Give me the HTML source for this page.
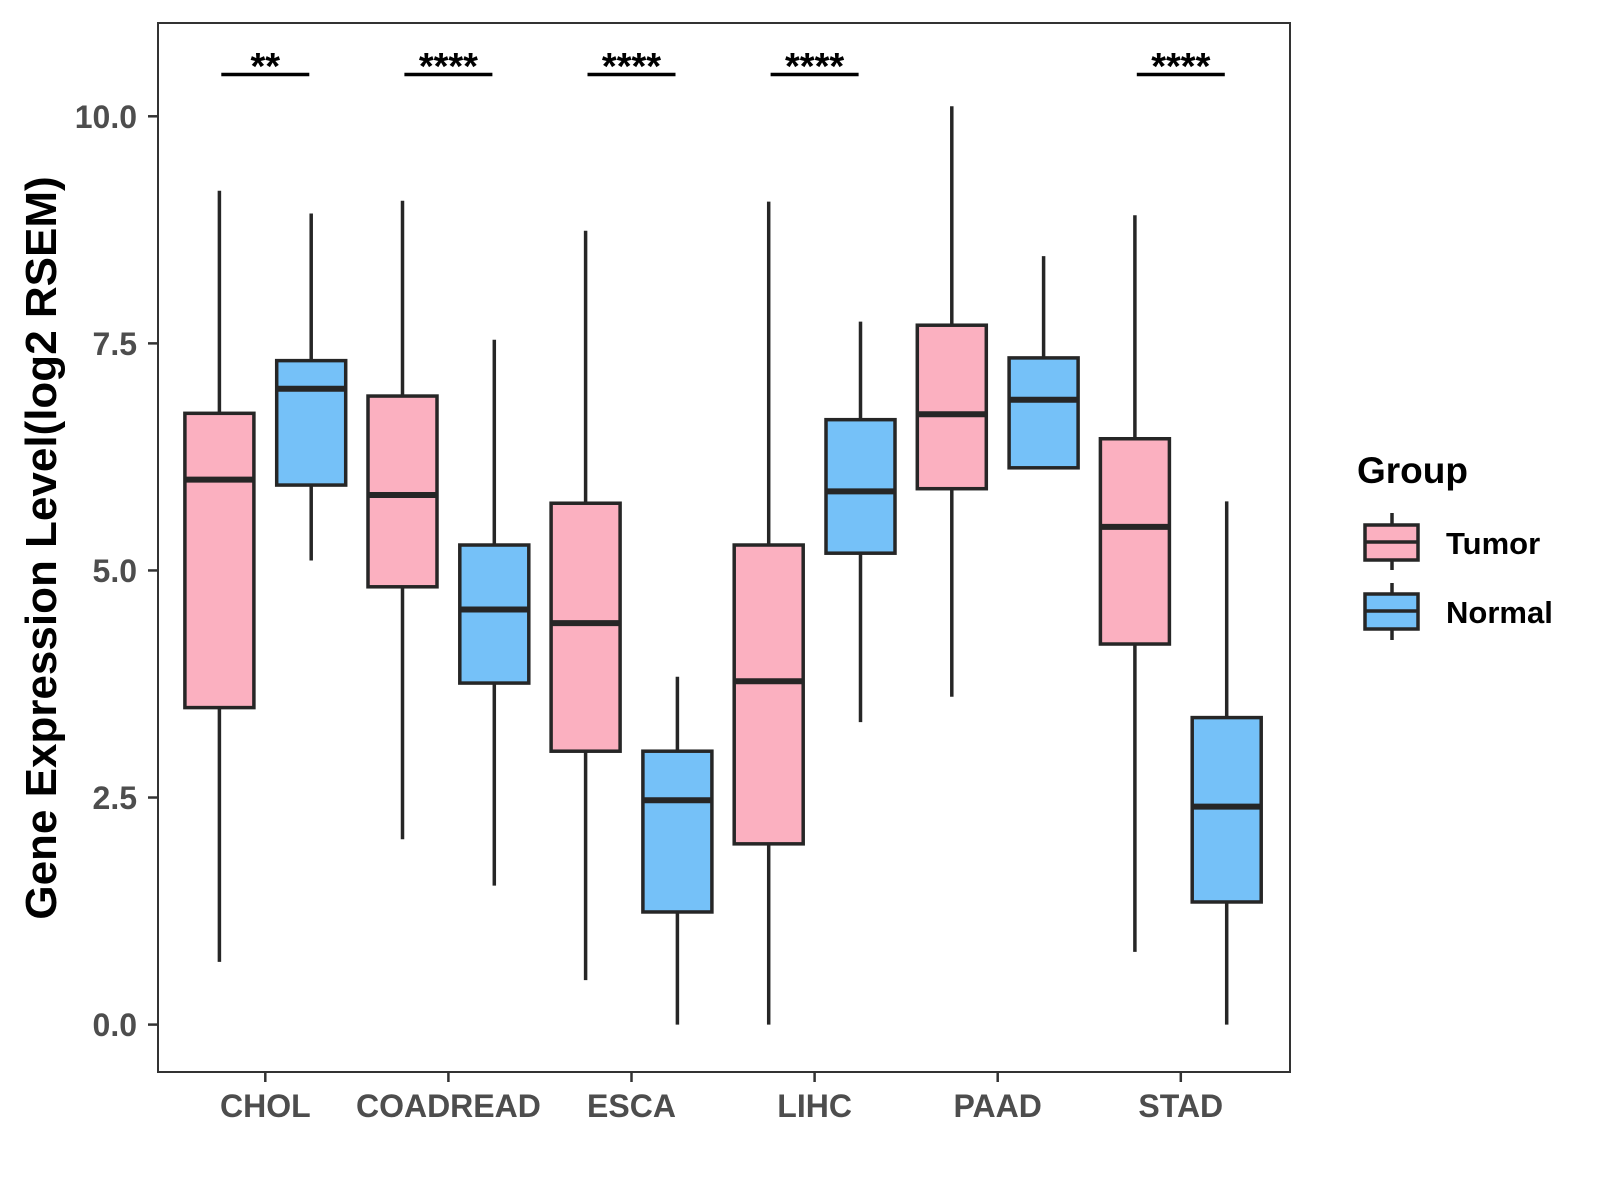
<!DOCTYPE html>
<html><head><meta charset="utf-8"><style>
html,body{margin:0;padding:0;background:#fff;}
svg{display:block;font-family:"Liberation Sans",Arial,sans-serif;}
</style></head><body>
<svg id="chart" width="1600" height="1200" viewBox="0 0 1600 1200">
<rect x="158" y="23" width="1132" height="1049" fill="#fff" stroke="#333" stroke-width="2"/>
<g id="marks"></g>
<g id="axes"></g>
<text x="0" y="0" transform="translate(56,548) rotate(-90)" text-anchor="middle" font-weight="bold" font-size="44" fill="#000">Gene Expression Level(log2 RSEM)</text>
<g>
<text x="1357" y="483" font-size="37" font-weight="bold" fill="#000">Group</text>
<g>
<line x1="1392" y1="513" x2="1392" y2="570" stroke="#262626" stroke-width="3.5"/>
<rect x="1365" y="525" width="53" height="35" fill="#FBB0C0" stroke="#262626" stroke-width="3.5"/>
<line x1="1365" y1="542" x2="1418" y2="542" stroke="#262626" stroke-width="3.5"/>
<text x="1446" y="554" font-size="31" font-weight="bold" fill="#000">Tumor</text>
</g>
<g>
<line x1="1392" y1="583" x2="1392" y2="640" stroke="#262626" stroke-width="3.5"/>
<rect x="1365" y="594" width="53" height="35" fill="#75C1F8" stroke="#262626" stroke-width="3.5"/>
<line x1="1365" y1="611" x2="1418" y2="611" stroke="#262626" stroke-width="3.5"/>
<text x="1446" y="623" font-size="31" font-weight="bold" fill="#000">Normal</text>
</g>
</g>
</svg>
<script>
const categories = ["CHOL","COADREAD","ESCA","LIHC","PAAD","STAD"];
// [lowWhisker, q1, median, q3, highWhisker]
const tumorStats = [
 [0.69,3.49,6.00,6.73,9.18],
 [2.04,4.82,5.83,6.92,9.07],
 [0.49,3.01,4.42,5.74,8.74],
 [0.00,1.99,3.78,5.28,9.06],
 [3.61,5.90,6.72,7.70,10.11],
 [0.80,4.19,5.48,6.45,8.91]
];
const normalStats = [
 [5.11,5.94,7.00,7.31,8.93],
 [1.53,3.76,4.57,5.28,7.54],
 [0.00,1.24,2.47,3.01,3.83],
 [3.33,5.19,5.87,6.66,7.74],
 [6.13,6.13,6.88,7.34,8.46],
 [0.00,1.35,2.40,3.38,5.76]
];
const significance = ["**","****","****","****","","****"];
const yTicks = [0,2.5,5,7.5,10];
const yTickLabels = ["0.0","2.5","5.0","7.5","10.0"];

const NS="http://www.w3.org/2000/svg";
function y(v){return 1024.6-90.83*v;}
function x(i){return 265.3+183.1*i;}
function mk(tag,attrs,parent){const e=document.createElementNS(NS,tag);for(const k in attrs)e.setAttribute(k,attrs[k]);parent.appendChild(e);return e;}
const marks=document.getElementById('marks'), axes=document.getElementById('axes');
const boxW=69, off=45.9;
function drawBox(cx,s,fill,name){
  const g=mk('g',{},marks);
  
  
  mk('line',{x1:cx,x2:cx,y1:y(s[4]),y2:y(s[3]),stroke:'#262626','stroke-width':3.5},g);
  mk('line',{x1:cx,x2:cx,y1:y(s[1]),y2:y(s[0]),stroke:'#262626','stroke-width':3.5},g);
  mk('rect',{x:cx-boxW/2,y:y(s[3]),width:boxW,height:y(s[1])-y(s[3]),fill:fill,stroke:'#262626','stroke-width':3.5},g);
  mk('line',{x1:cx-boxW/2,x2:cx+boxW/2,y1:y(s[2]),y2:y(s[2]),stroke:'#262626','stroke-width':6},g);
}
categories.forEach((c,i)=>{
  drawBox(x(i)-off,tumorStats[i],'#FBB0C0','box-tumor-'+c.toLowerCase());
  drawBox(x(i)+off,normalStats[i],'#75C1F8','box-normal-'+c.toLowerCase());
  mk('line',{x1:x(i),x2:x(i),y1:1072,y2:1082,stroke:'#333','stroke-width':2.5},axes);
  const t=mk('text',{x:x(i),y:1117,'text-anchor':'middle','font-size':32,'font-weight':'bold',fill:'#4d4d4d'},axes);
  t.textContent=c;
  
  
  if(significance[i]){
    const sg=mk('g',{},marks);
    
    
    mk('line',{x1:x(i)-44,x2:x(i)+44,y1:74.5,y2:74.5,stroke:'#000','stroke-width':3.5},sg);
    const st=mk('text',{x:x(i),y:79,'text-anchor':'middle','font-size':38,'font-weight':'bold',fill:'#000'},sg);
    st.textContent=significance[i];
  }
});
yTicks.forEach((v,i)=>{
  mk('line',{x1:148,x2:158,y1:y(v),y2:y(v),stroke:'#333','stroke-width':2.5},axes);
  const t=mk('text',{x:137,y:y(v)+11.5,'text-anchor':'end','font-size':32,'font-weight':'bold',fill:'#4d4d4d'},axes);
  t.textContent=yTickLabels[i];
  
  
});
</script>
</body></html>
